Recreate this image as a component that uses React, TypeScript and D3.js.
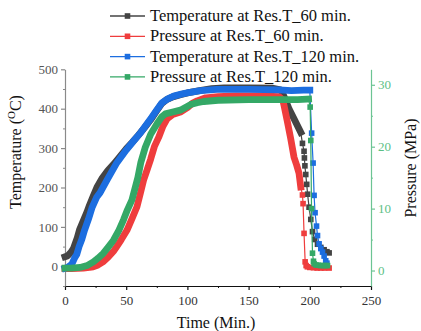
import { useEffect, useRef } from "react";
import * as d3 from "d3";

// [time (min), value] pairs.
// "band" = densely sampled part that renders as a thick stroke,
// "pts"  = sparse tail drawn with square markers.
const tempBand60: [number, number][] = [
  [0, 24], [2, 26], [5, 36], [7, 46], [10, 72], [12, 94], [15, 116], [18, 138],
  [20, 155], [23, 178], [26, 200], [30, 222], [35, 243], [40, 260], [45, 279],
  [50, 298], [55, 315], [60, 333], [65, 352], [70, 372], [75, 395], [79, 413],
  [83, 423], [88, 430], [95, 436], [100, 440], [110, 446], [120, 451], [130, 453],
  [150, 453], [170, 452], [176, 448], [178, 438], [180, 423], [183, 400],
  [187, 375], [192.6, 340],
];
const tempPts60: [number, number][] = [
  [194, 312], [195.3, 292], [195.6, 275], [196, 255], [196.7, 233], [197.5, 208],
  [198.2, 183], [199.4, 150], [200.8, 119], [202.2, 88], [204, 68], [206.3, 56],
  [209, 48], [211.7, 42], [214, 37], [215.8, 34],
];

const presBand60: [number, number][] = [
  [0, 0.3], [5, 0.3], [10, 0.35], [15, 0.4], [20, 0.5], [23, 0.6], [27, 0.9],
  [31, 1.4], [35, 2.1], [40, 3.2], [42.4, 3.9], [46, 5.0], [50.6, 6.5], [55, 8.5],
  [58.8, 10.3], [62, 12.8], [64.2, 14.6], [67, 16.2], [70, 18], [73, 20],
  [76.5, 21.5], [80, 23.3], [83.4, 24.5], [88, 25.2], [94.3, 25.6], [100, 26.3],
  [104, 27], [108, 27.4], [115, 27.9], [125, 28.1], [140, 28.2], [160, 28.2],
  [175, 28.1], [178, 27.5], [179, 26.6], [181.7, 24], [184.4, 21.3], [187.1, 18.3],
  [189.3, 17], [191.2, 15.7], [192.6, 13.5],
];
const presPts60: [number, number][] = [
  [194, 12.2], [194.5, 10.8], [195.3, 6], [196.2, 1.4], [197, 0.8], [198, 0.6],
  [200, 0.5], [203, 0.45], [206, 0.4], [209, 0.4], [212, 0.4], [215.8, 0.4],
];

const tempBand120: [number, number][] = [
  [0, -5], [2, -3], [5.5, 5], [8, 22], [9.6, 30], [11.5, 50], [13.7, 68], [16, 92],
  [19.1, 119], [22, 148], [26, 176], [28.7, 187], [34.5, 220], [42.4, 263],
  [50, 295], [56, 318], [62, 340], [69.7, 373], [75, 397], [79.2, 415], [84, 425],
  [88.8, 432], [95, 437], [99.7, 440], [110.7, 446], [124, 449], [150, 449],
  [175, 448], [185, 446], [195, 447], [200, 447],
];
const tempPts120: [number, number][] = [
  [201.5, 338], [202.7, 262], [203.5, 180], [204.3, 136], [205.5, 102],
  [206.3, 78], [207.6, 57], [209, 45], [210.4, 36], [211.7, 26], [213, 14], [214, 8],
];

const presBand120: [number, number][] = [
  [0, 0.4], [5, 0.4], [12.3, 0.5], [18, 0.8], [23.2, 1.4], [27, 2], [31.4, 2.8],
  [35, 3.7], [39.6, 4.9], [44, 6.5], [47.8, 8.2], [51, 9.8], [54.7, 11.4],
  [59.5, 15], [62, 17.5], [65.6, 19.9], [70, 22], [75.2, 23.7], [79, 24.8],
  [82, 25.3], [88, 25.6], [94.3, 25.9], [98, 26.3], [102.5, 26.8], [108, 27.1],
  [113.4, 27.3], [125, 27.5], [150, 27.6], [175, 27.6], [190, 27.6], [199, 27.7],
];
const presPts120: [number, number][] = [
  [200.3, 26.4], [200.8, 21], [201.4, 10], [202.2, 2.8], [203, 1.5], [203.5, 1.1],
  [205, 0.9], [207, 0.85], [209, 0.8], [211, 0.8], [213, 0.8], [214.5, 0.8],
];

const seriesNames = [
  "Temperature at Res.T_60 min.",
  "Pressure at Res.T_60 min.",
  "Temperature at Res.T_120 min.",
  "Pressure at Res.T_120 min.",
];
const seriesColors = ["#444444", "#ef3d3d", "#1c6ee0", "#34a866"];

const xTicks = [0, 50, 100, 150, 200, 250];
const xMinor = [25, 75, 125, 175, 225];
const tTicks = [0, 100, 200, 300, 400, 500];
const tMinor = [-50, 50, 150, 250, 350, 450];
const pTicks = [0, 10, 20, 30];
const pMinor = [5, 15, 25];

const W = 421;
const H = 331;
const FONT = "'Liberation Serif', 'Times New Roman', serif";
const AXIS_GREEN = "#6cc493";

export default function App() {
  const svgRef = useRef<SVGSVGElement | null>(null);

  useEffect(() => {
    const svg = d3.select(svgRef.current);
    svg.selectAll("*").remove();

    // plot box (px)
    const left = 65, right = 371, top = 69.3, bottom = 286;

    const x = d3.scaleLinear().domain([0, 250]).range([left, right]);
    const yT = d3.scaleLinear().domain([-50, 500]).range([bottom, top]);
    const yP = d3.scaleLinear().domain([-2.5, 32.5]).range([bottom, top]);

    // ---- axes
    const styleAxis = (g: any, color: string, textColor: string) => {
      g.attr("font-family", FONT).attr("font-size", 13);
      g.selectAll("path, line").attr("stroke", color).attr("stroke-width", 1.2);
      g.selectAll("text")
        .attr("fill", textColor)
        .style("font-family", FONT)
        .style("font-size", "13px");
    };

    // x axis
    const gx = svg.append("g").attr("transform", `translate(0,${bottom})`);
    gx.call(d3.axisBottom(x).tickValues(xTicks).tickSize(4).tickSizeOuter(0).tickPadding(6));
    styleAxis(gx, "#111", "#333");
    svg.append("g")
      .attr("transform", `translate(0,${bottom})`)
      .call(d3.axisBottom(x).tickValues(xMinor).tickSize(2).tickFormat(() => ""))
      .call((g: any) => {
        g.select(".domain").remove();
        g.selectAll("line").attr("stroke", "#111");
      });

    // left (temperature) axis
    const gl = svg.append("g").attr("transform", `translate(${left},0)`);
    gl.call(d3.axisLeft(yT).tickValues(tTicks).tickSize(4).tickSizeOuter(0).tickPadding(3));
    styleAxis(gl, "#8a8a8a", "#555");
    svg.append("g")
      .attr("transform", `translate(${left},0)`)
      .call(d3.axisLeft(yT).tickValues(tMinor).tickSize(2).tickFormat(() => ""))
      .call((g: any) => {
        g.select(".domain").remove();
        g.selectAll("line").attr("stroke", "#8a8a8a");
      });

    // right (pressure) axis
    const gr = svg.append("g").attr("transform", `translate(${right},0)`);
    gr.call(d3.axisRight(yP).tickValues(pTicks).tickSize(4).tickSizeOuter(0).tickPadding(3));
    styleAxis(gr, AXIS_GREEN, "#5cbf85");
    svg.append("g")
      .attr("transform", `translate(${right},0)`)
      .call(d3.axisRight(yP).tickValues(pMinor).tickSize(2).tickFormat(() => ""))
      .call((g: any) => {
        g.select(".domain").remove();
        g.selectAll("line").attr("stroke", AXIS_GREEN);
      });

    // ---- series
    const series = [
      { band: tempBand60, pts: tempPts60, y: yT },
      { band: presBand60, pts: presPts60, y: yP },
      { band: tempBand120, pts: tempPts120, y: yT },
      { band: presBand120, pts: presPts120, y: yP },
    ];

    const plot = svg.append("g");
    series.forEach((s, i) => {
      const color = seriesColors[i];
      const line = d3.line<[number, number]>()
        .x((d) => x(d[0]))
        .y((d) => s.y(d[1]));
      const all = s.band.concat(s.pts);
      // thin connecting line
      plot.append("path")
        .attr("d", line(all))
        .attr("fill", "none")
        .attr("stroke", color)
        .attr("stroke-width", 1.2);
      // dense part -> thick band
      plot.append("path")
        .attr("d", line(s.band))
        .attr("fill", "none")
        .attr("stroke", color)
        .attr("stroke-width", 6.8)
        .attr("stroke-linejoin", "round")
        .attr("stroke-linecap", "square");
      // sparse tail -> square markers
      plot.selectAll(null)
        .data(s.pts)
        .enter()
        .append("rect")
        .attr("x", (d) => x(d[0]) - 2.8)
        .attr("y", (d) => s.y(d[1]) - 2.8)
        .attr("width", 5.6)
        .attr("height", 5.6)
        .attr("fill", color);
    });

    // ---- axis titles
    const tl = svg.append("text")
      .attr("transform", "translate(21,152) rotate(-90)")
      .attr("text-anchor", "middle")
      .style("font-family", FONT)
      .style("font-size", "16px")
      .attr("fill", "#111");
    tl.append("tspan").text("Temperature (");
    tl.append("tspan").attr("dy", -6).style("font-size", "11px").text("O");
    tl.append("tspan").attr("dy", 6).text("C)");

    svg.append("text")
      .attr("transform", "translate(416,168) rotate(-90)")
      .attr("text-anchor", "middle")
      .style("font-family", FONT)
      .style("font-size", "16px")
      .attr("fill", "#111")
      .text("Pressure (MPa)");

    svg.append("text")
      .attr("x", 216)
      .attr("y", 328)
      .attr("text-anchor", "middle")
      .style("font-family", FONT)
      .style("font-size", "16px")
      .attr("fill", "#111")
      .text("Time (Min.)");

    // ---- legend
    const lg = svg.append("g");
    seriesNames.forEach((name, i) => {
      const yy = 16 + i * 20.3;
      lg.append("line")
        .attr("x1", 110).attr("x2", 145)
        .attr("y1", yy).attr("y2", yy)
        .attr("stroke", seriesColors[i])
        .attr("stroke-width", 1.3);
      lg.append("rect")
        .attr("x", 127.5 - 2.8).attr("y", yy - 2.8)
        .attr("width", 5.6).attr("height", 5.6)
        .attr("fill", seriesColors[i]);
      lg.append("text")
        .attr("x", 150)
        .attr("y", yy + 5)
        .style("font-family", FONT)
        .style("font-size", "16.5px")
        .attr("fill", "#111")
        .text(name);
    });
  }, []);

  return (
    <svg
      ref={svgRef}
      width={W}
      height={H}
      style={{ position: "absolute", left: 0, top: 0, background: "#fff" }}
    />
  );
}
